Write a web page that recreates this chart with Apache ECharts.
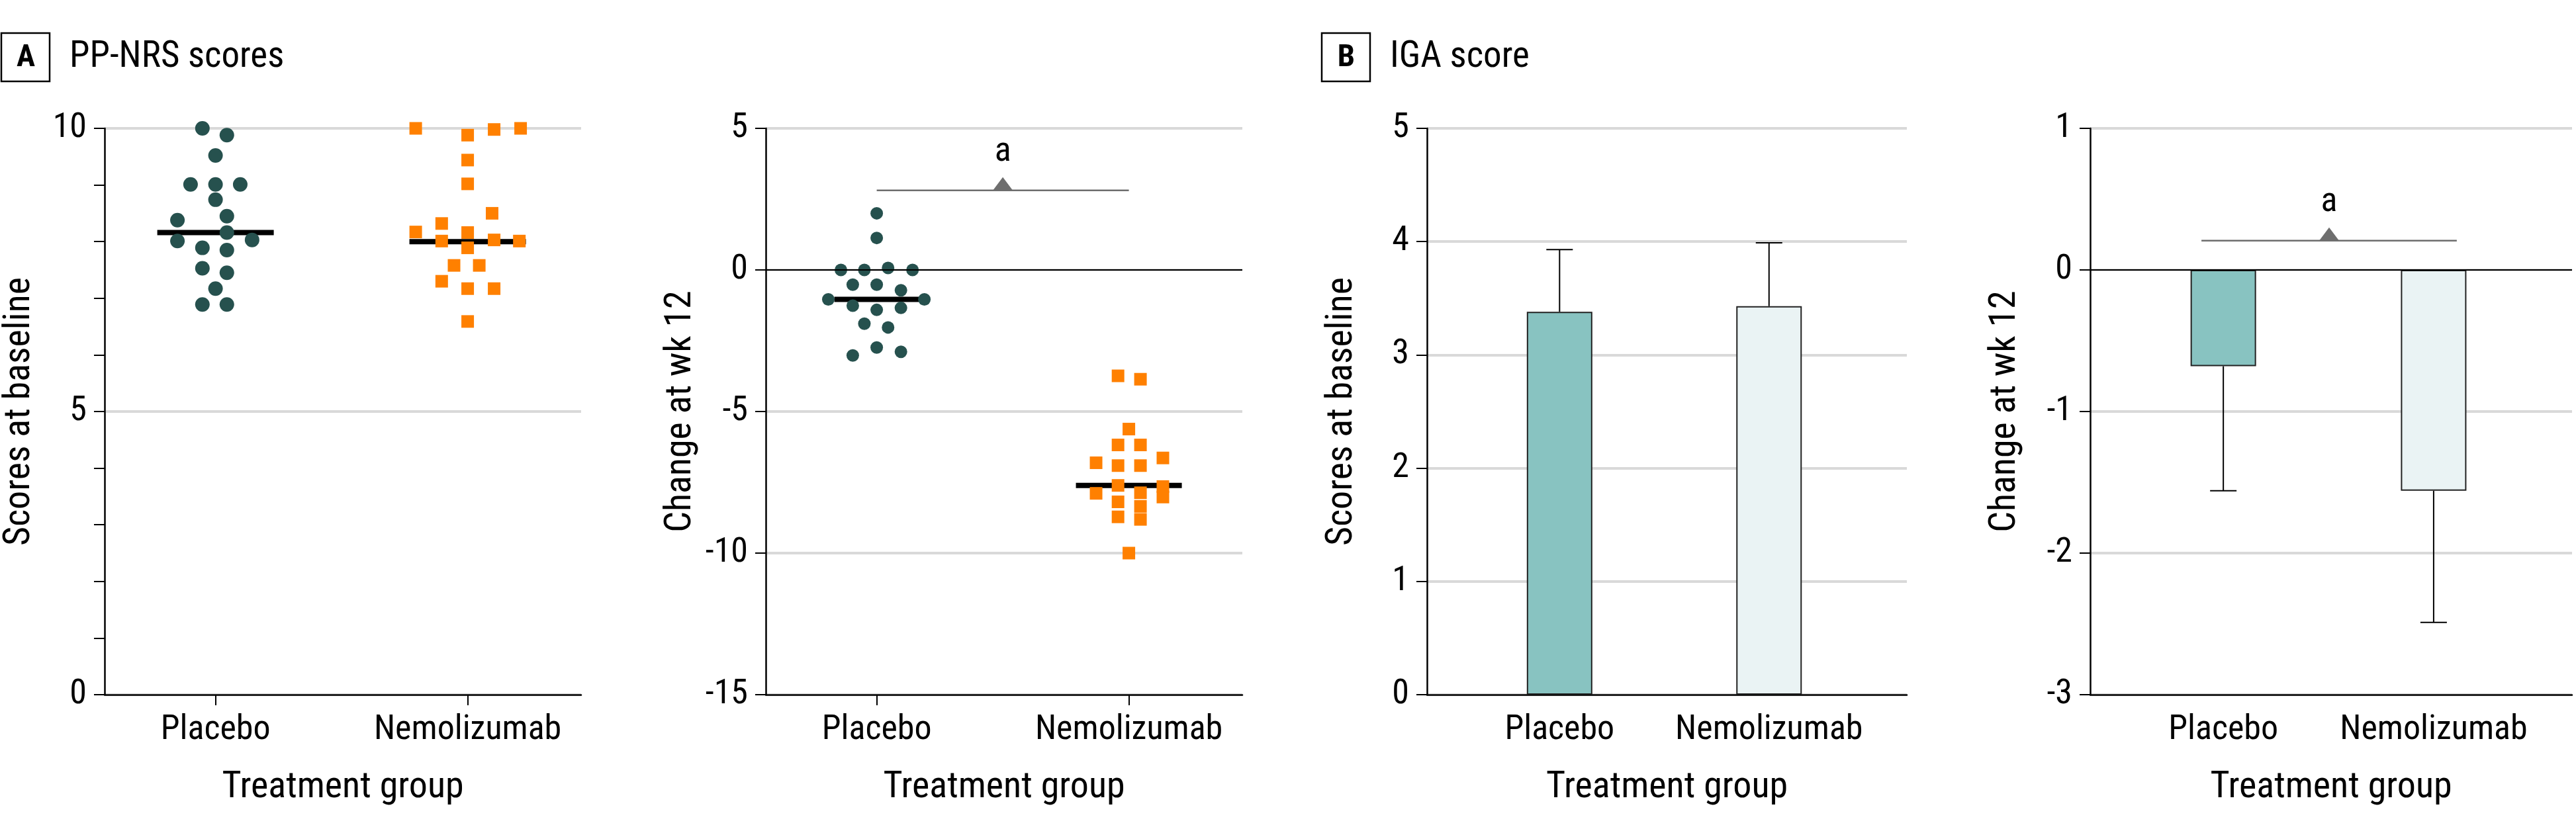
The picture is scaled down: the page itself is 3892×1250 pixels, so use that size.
<!DOCTYPE html>
<html><head><meta charset="utf-8">
<script src="https://cdn.jsdelivr.net/npm/echarts@6/dist/echarts.min.js"></script>
<style>html,body{margin:0;padding:0;background:#fff}#c{width:3892px;height:1250px}</style>
</head><body><div id="c"></div>
<script>
// ---------- data ----------
const categories = ['Placebo', 'Nemolizumab'];
const xAxisTitle = 'Treatment group';

// Panel A (left): PP-NRS scores at baseline
const ppnrsBasePlacebo = [10.0, 9.88, 9.52, 9.01, 9.01, 9.01, 8.74, 8.45, 8.38, 8.16, 8.01, 8.03, 7.89, 7.85, 7.53, 7.45, 7.17, 6.89, 6.89];
const ppnrsBaseNemo = [10.0, 9.88, 9.98, 10.0, 9.44, 9.02, 8.50, 8.32, 8.17, 8.16, 8.01, 8.03, 8.01, 7.89, 7.58, 7.58, 7.30, 7.17, 7.17, 6.59];
const ppnrsBaseMedian = [8.16, 8.0];

// Panel A (right): PP-NRS change at week 12
const ppnrsChgPlacebo = [2.0, 1.13, 0, 0, 0.07, 0, -0.52, -0.52, -0.72, -1.04, -1.04, -1.26, -1.41, -1.34, -1.90, -2.03, -3.02, -2.74, -2.89];
const ppnrsChgNemo = [-3.74, -3.86, -5.62, -6.18, -6.18, -6.64, -6.81, -6.91, -6.91, -7.61, -7.65, -8.02, -7.89, -7.87, -8.35, -8.81, -8.19, -8.72, -10.0];
const ppnrsChgMedian = [-1.04, -7.61];
const ppnrsChgBracket = 2.81;

// Panel B: IGA score
const igaBaseMean = [3.38, 3.43];
const igaBaseUpper = [3.93, 3.99];
const igaChgMean = [-0.68, -1.56];
const igaChgLower = [-1.56, -2.49];
const igaChgBracket = 0.207;

// beeswarm layout offsets (in category units)
const jitBasePlacebo = [-0.052, 0.045, 0, -0.099, 0, 0.098, 0, 0.045, -0.151, 0.045, -0.151, 0.145, -0.052, 0.045, -0.052, 0.045, 0, -0.052, 0.045];
const jitBaseNemo = [-0.206, 0, 0.105, 0.210, 0, 0, 0.097, -0.103, -0.206, 0, -0.103, 0.105, 0.205, 0, -0.054, 0.046, -0.103, 0, 0.105, 0];
const jitChgPlacebo = [0, 0, -0.142, -0.049, 0.045, 0.142, -0.095, 0, 0.096, -0.192, 0.189, -0.095, 0, 0.096, -0.049, 0.045, -0.095, 0, 0.096];
const jitChgNemo = [-0.043, 0.046, 0, -0.043, 0.046, 0.135, -0.13, -0.043, 0.046, -0.043, 0.135, 0.135, -0.13, 0.046, 0.046, 0.046, -0.043, -0.043, 0];

// ---------- styles ----------
const FONT = '"Roboto Condensed", "Liberation Sans", sans-serif';
const DOT = '#26514e';
const ORANGE = '#ff8000';
const GRID = '#d9d9d9';
const BAR1 = '#88c3c1';
const BAR2 = '#eaf3f4';
const TICK_FS = 52, NAME_FS = 56;

function swarm(vals, jit, g) { return vals.map((v, i) => [g + jit[i], v]); }

function xAxisFor(gi, min, max, showTicks) {
  return {
    type: 'value', gridIndex: gi, min: min, max: max,
    axisLine: { show: true, onZero: false, lineStyle: { color: '#000', width: 2.5 } },
    splitLine: { show: false },
    axisTick: { show: showTicks, customValues: [0, 1], length: 16, lineStyle: { color: '#000', width: 2 } },
    axisLabel: { customValues: [0, 1], formatter: v => categories[Math.round(v)], margin: 28, fontSize: TICK_FS, fontFamily: FONT, color: '#000' },
    name: xAxisTitle, nameLocation: 'middle', nameGap: 113,
    nameTextStyle: { fontSize: NAME_FS, fontFamily: FONT, color: '#000' }
  };
}
function yAxisFor(gi, min, max, interval, name, minor) {
  return {
    type: 'value', gridIndex: gi, min: min, max: max, interval: interval,
    axisLine: { show: true, onZero: false, lineStyle: { color: '#000', width: 2.5 } },
    axisTick: { show: true, length: 16, lineStyle: { color: '#000', width: 2 } },
    minorTick: { show: !!minor, splitNumber: minor || 5, length: 16, lineStyle: { color: '#000', width: 2 } },
    splitLine: { show: true, lineStyle: { color: GRID, width: 4 } },
    axisLabel: { margin: 27, fontSize: TICK_FS, fontFamily: FONT, color: '#000' },
    name: name, nameLocation: 'middle', nameGap: 100, nameRotate: 90,
    nameTextStyle: { fontSize: NAME_FS, fontFamily: FONT, color: '#000' }
  };
}
function medianLine(gi, g, m, hw) {
  return { type: 'line', xAxisIndex: gi, yAxisIndex: gi, data: [[g - hw, m], [g + hw, m]], symbol: 'none',
    lineStyle: { color: '#000', width: 8 }, z: 2, silent: true, animation: false };
}
function zeroLine(gi) {
  return { type: 'line', xAxisIndex: gi, yAxisIndex: gi, data: [], silent: true,
    markLine: { silent: true, symbol: 'none', label: { show: false }, animation: false,
      lineStyle: { color: '#000', width: 2, type: 'solid' }, data: [{ yAxis: 0 }] }, z: 1 };
}
function bracket(gi, x0, x1, yv) {
  return [
    { type: 'line', xAxisIndex: gi, yAxisIndex: gi, data: [[x0, yv], [x1, yv]], symbol: 'none',
      lineStyle: { color: '#6e6e6e', width: 2.5 }, silent: true, animation: false },
    { type: 'scatter', xAxisIndex: gi, yAxisIndex: gi, data: [[(x0 + x1) / 2, yv]], symbol: 'triangle',
      symbolSize: [30, 20], symbolOffset: [0, -10], itemStyle: { color: '#6e6e6e', opacity: 1 }, silent: true,
      label: { show: true, formatter: 'a', position: 'top', distance: 12, fontSize: 52, fontFamily: FONT, color: '#000' } }
  ];
}
function errorBars(gi, means, ends) {
  return { type: 'custom', xAxisIndex: gi, yAxisIndex: gi, z: 1,
    data: means.map((m, i) => [i, m, ends[i]]), encode: { x: 0, y: [1, 2] },
    renderItem: function (params, api) {
      const p0 = api.coord([api.value(0), api.value(1)]);
      const p1 = api.coord([api.value(0), api.value(2)]);
      const cw = 20;
      return { type: 'group', children: [
        { type: 'line', shape: { x1: p0[0], y1: p0[1], x2: p1[0], y2: p1[1] }, style: { stroke: '#000', lineWidth: 2 } },
        { type: 'line', shape: { x1: p1[0] - cw, y1: p1[1], x2: p1[0] + cw, y2: p1[1] }, style: { stroke: '#000', lineWidth: 2 } }
      ] };
    }
  };
}
function bars(gi, means) {
  const cols = [BAR1, BAR2];
  return { type: 'bar', xAxisIndex: gi, yAxisIndex: gi, barWidth: 99, z: 2,
    data: means.map((m, i) => ({ value: [i, m], itemStyle: { color: cols[i], borderColor: '#222', borderWidth: 2 } })) };
}

const grids = [
  { left: 158, top: 194, width: 720, height: 856 },
  { left: 1157, top: 194, width: 720, height: 856 },
  { left: 2156, top: 194, width: 725, height: 856 },
  { left: 3158, top: 194, width: 728, height: 856 }
].map(g => Object.assign({ outerBoundsMode: 'none', containLabel: false }, g));

const AMIN = -0.44, AMAX = 1.45, BMIN = -0.633, BMAX = 1.658;

const series = [
  medianLine(0, 0, ppnrsBaseMedian[0], 0.231),
  medianLine(0, 1, ppnrsBaseMedian[1], 0.231),
  { type: 'scatter', xAxisIndex: 0, yAxisIndex: 0, data: swarm(ppnrsBasePlacebo, jitBasePlacebo, 0), symbol: 'circle', symbolSize: 22, itemStyle: { color: DOT, opacity: 1 }, z: 3 },
  { type: 'scatter', xAxisIndex: 0, yAxisIndex: 0, data: swarm(ppnrsBaseNemo, jitBaseNemo, 1), symbol: 'rect', symbolSize: 19, itemStyle: { color: ORANGE, opacity: 1 }, z: 3 },

  zeroLine(1),
  medianLine(1, 0, ppnrsChgMedian[0], 0.168),
  medianLine(1, 1, ppnrsChgMedian[1], 0.21),
  { type: 'scatter', xAxisIndex: 1, yAxisIndex: 1, data: swarm(ppnrsChgPlacebo, jitChgPlacebo, 0), symbol: 'circle', symbolSize: 19, itemStyle: { color: DOT, opacity: 1 }, z: 3 },
  { type: 'scatter', xAxisIndex: 1, yAxisIndex: 1, data: swarm(ppnrsChgNemo, jitChgNemo, 1), symbol: 'rect', symbolSize: 19, itemStyle: { color: ORANGE, opacity: 1 }, z: 3 },
  ...bracket(1, 0, 1, ppnrsChgBracket),

  errorBars(2, igaBaseMean, igaBaseUpper),
  bars(2, igaBaseMean),

  errorBars(3, igaChgMean, igaChgLower),
  bars(3, igaChgMean),
  zeroLine(3),
  ...bracket(3, -0.104, 1.11, igaChgBracket)
];

function panelLabel(x, letter, title) {
  return [
    { type: 'rect', shape: { x: x, y: 50, width: 73, height: 73 }, style: { fill: '#fff', stroke: '#000', lineWidth: 2.5 } },
    { type: 'text', x: x + 37, y: 88, style: { text: letter, fontSize: 47, fontWeight: 'bold', fontFamily: FONT, fill: '#000', align: 'center', verticalAlign: 'middle' } },
    { type: 'text', x: x + 103, y: 87, style: { text: title, fontSize: 55, fontFamily: FONT, fill: '#000', align: 'left', verticalAlign: 'middle' } }
  ];
}

const chart = echarts.init(document.getElementById('c'), null, { renderer: 'canvas' });
chart.setOption({
  animation: false,
  backgroundColor: '#fff',
  grid: grids,
  xAxis: [xAxisFor(0, AMIN, AMAX, true), xAxisFor(1, AMIN, AMAX, true), xAxisFor(2, BMIN, BMAX, false), xAxisFor(3, BMIN, BMAX, false)],
  yAxis: [
    yAxisFor(0, 0, 10, 5, 'Scores at baseline', 5),
    yAxisFor(1, -15, 5, 5, 'Change at wk 12', 0),
    yAxisFor(2, 0, 5, 1, 'Scores at baseline', 0),
    yAxisFor(3, -3, 1, 1, 'Change at wk 12', 0)
  ],
  graphic: [...panelLabel(2, 'A', 'PP-NRS scores'), ...panelLabel(1997, 'B', 'IGA score')],
  series: series
});
</script></body></html>
